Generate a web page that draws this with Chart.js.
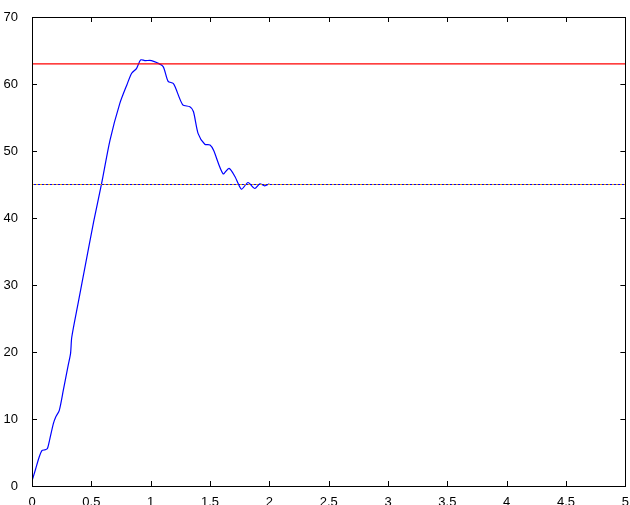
<!DOCTYPE html>
<html>
<head>
<meta charset="utf-8">
<script src="https://cdn.jsdelivr.net/npm/chart.js"></script>
<style>
  html, body { margin: 0; padding: 0; background: #fff; }
  #wrap { width: 630px; height: 505px; }
</style>
</head>
<body>
<div id="wrap"><canvas id="chart" width="630" height="505"></canvas></div>
<script>
// response curve
const timeX = [0, 0.03, 0.06, 0.085, 0.11, 0.13, 0.15, 0.18, 0.2, 0.23, 0.264, 0.306, 0.325, 0.335, 0.39, 0.45, 0.52,
  0.587, 0.657, 0.74, 0.80, 0.84, 0.88, 0.915, 0.95, 1.007, 1.05, 1.105, 1.147, 1.19, 1.21, 1.27, 1.33,
  1.36, 1.40, 1.456, 1.50, 1.53, 1.61, 1.66, 1.71, 1.765, 1.82, 1.877, 1.92, 1.96, 2.0];
const responseY = [0.75, 2.5, 4.3, 5.3, 5.4, 5.6, 7, 9.3, 10.3, 11.3, 14.3, 18.1, 19.8, 22.2, 27.4, 33, 39.5,
  45.2, 51.6, 57.1, 59.9, 61.6, 62.3, 63.6, 63.5, 63.5, 63.2, 62.6, 60.4, 60.1, 59.4, 56.9, 56.6,
  55.9, 52.6, 51.0, 50.9, 50.1, 46.6, 47.4, 46.2, 44.3, 45.3, 44.4, 45.1, 44.8, 45.1];

const limitX = [0, 5];
const upperLimit = [63, 63];
const setPoint = [45, 45];

const xTicks = [0, 0.5, 1, 1.5, 2, 2.5, 3, 3.5, 4, 4.5, 5];
const yTicks = [0, 10, 20, 30, 40, 50, 60, 70];

const toPts = (xs, ys) => xs.map((x, i) => ({ x: x, y: ys[i] }));

// matlab style box with inward ticks
const boxTicks = {
  id: "boxTicks",
  afterDraw(chart) {
    const ctx = chart.ctx;
    const a = chart.chartArea;
    const xs = chart.scales.x, ys = chart.scales.y;
    const len = 5;
    ctx.save();
    ctx.strokeStyle = "#000";
    ctx.lineWidth = 1;
    ctx.beginPath();
    xTicks.forEach(v => {
      const px = Math.round(xs.getPixelForValue(v)) + 0.5;
      ctx.moveTo(px, a.bottom); ctx.lineTo(px, a.bottom - len);
      ctx.moveTo(px, a.top); ctx.lineTo(px, a.top + len);
    });
    yTicks.forEach(v => {
      const py = Math.round(ys.getPixelForValue(v)) + 0.5;
      ctx.moveTo(a.left, py); ctx.lineTo(a.left + len, py);
      ctx.moveTo(a.right, py); ctx.lineTo(a.right - len, py);
    });
    ctx.stroke();
    ctx.strokeRect(Math.round(a.left) + 0.5, Math.round(a.top) + 0.5,
      Math.round(a.right - a.left), Math.round(a.bottom - a.top));
    ctx.restore();
  }
};

new Chart(document.getElementById("chart"), {
  type: "scatter",
  data: {
    datasets: [
      {
        data: toPts(limitX, upperLimit),
        showLine: true, borderColor: "#ff0000", borderWidth: 1.3, pointRadius: 0
      },
      {
        data: toPts(limitX, setPoint),
        showLine: true, borderColor: "#e0a000", borderWidth: 1, pointRadius: 0,
        borderDash: [2, 2]
      },
      {
        data: toPts(limitX, setPoint),
        showLine: true, borderColor: "#0000ff", borderWidth: 1, pointRadius: 0,
        borderDash: [2, 2], borderDashOffset: 2
      },
      {
        data: toPts(timeX, responseY),
        showLine: true, borderColor: "#0000ff", borderWidth: 1.2, pointRadius: 0,
        tension: 0.25
      }
    ]
  },
  options: {
    responsive: false,
    animation: false,
    events: [],
    layout: { padding: { top: 17, right: 4, left: 0, bottom: 0 } },
    plugins: { legend: { display: false }, tooltip: { enabled: false } },
    scales: {
      x: {
        type: "linear", min: 0, max: 5,
        grid: { display: false },
        border: { display: false },
        afterBuildTicks: s => { s.ticks = xTicks.map(v => ({ value: v })); },
        afterFit: s => { s.height = 19; },
        ticks: {
          color: "#000", padding: 1, maxRotation: 0,
          font: { family: "Liberation Sans, Arial, sans-serif", size: 13 },
          callback: v => String(v)
        }
      },
      y: {
        type: "linear", min: 0, max: 70,
        grid: { display: false },
        border: { display: false },
        afterBuildTicks: s => { s.ticks = yTicks.map(v => ({ value: v })); },
        afterFit: s => { s.width = 32; },
        ticks: {
          color: "#000", padding: 6,
          font: { family: "Liberation Sans, Arial, sans-serif", size: 13 },
          callback: v => String(v)
        }
      }
    }
  },
  plugins: [boxTicks]
});
</script>
</body>
</html>
